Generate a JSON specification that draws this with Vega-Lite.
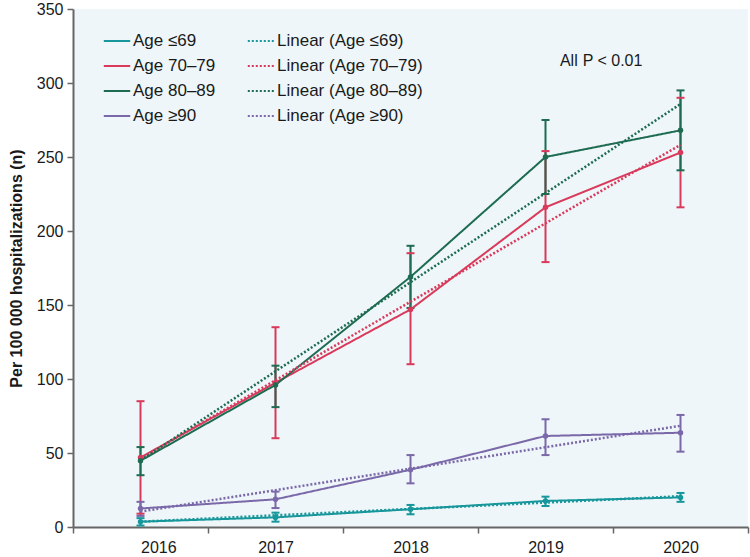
{
  "$schema": "https://vega.github.io/schema/vega-lite/v6.json",
  "width": 675,
  "height": 518,
  "autosize": {"type": "none"},
  "padding": {"left": 73, "top": 9, "right": 2, "bottom": 30},
  "background": "white",
  "config": {
    "view": {"fill": "#eef6f9", "stroke": null},
    "font": "Liberation Sans",
    "axis": {"labelFont": "Liberation Sans", "titleFont": "Liberation Sans", "labelColor": "#1a1a1a", "titleColor": "#1a1a1a", "domainColor": "#666666", "tickColor": "#666666", "domainWidth": 2, "tickWidth": 1.5, "grid": false},
    "legend": {"labelFont": "Liberation Sans", "labelColor": "#1a1a1a"}
  },
  "datasets": {
    "obs": [
      {"series": "Age ≤69", "year": 2016, "v": 3.6, "lo": 1, "hi": 6},
      {"series": "Age ≤69", "year": 2017, "v": 6.5, "lo": 3.6, "hi": 9.7},
      {"series": "Age ≤69", "year": 2018, "v": 12, "lo": 8.6, "hi": 14.9},
      {"series": "Age ≤69", "year": 2019, "v": 17.6, "lo": 14.2, "hi": 20.5},
      {"series": "Age ≤69", "year": 2020, "v": 20, "lo": 17, "hi": 23},
      {"series": "Age 70–79", "year": 2016, "v": 47, "lo": 9, "hi": 85},
      {"series": "Age 70–79", "year": 2017, "v": 97.5, "lo": 60, "hi": 135},
      {"series": "Age 70–79", "year": 2018, "v": 147, "lo": 110, "hi": 185},
      {"series": "Age 70–79", "year": 2019, "v": 216, "lo": 179, "hi": 254},
      {"series": "Age 70–79", "year": 2020, "v": 253, "lo": 216, "hi": 290},
      {"series": "Age 80–89", "year": 2016, "v": 44.8, "lo": 35, "hi": 54},
      {"series": "Age 80–89", "year": 2017, "v": 96, "lo": 81, "hi": 109},
      {"series": "Age 80–89", "year": 2018, "v": 169, "lo": 148, "hi": 190},
      {"series": "Age 80–89", "year": 2019, "v": 250, "lo": 225, "hi": 275},
      {"series": "Age 80–89", "year": 2020, "v": 268, "lo": 241, "hi": 295},
      {"series": "Age ≥90", "year": 2016, "v": 12.5, "lo": 7.5, "hi": 17},
      {"series": "Age ≥90", "year": 2017, "v": 18.7, "lo": 12.8, "hi": 23.9},
      {"series": "Age ≥90", "year": 2018, "v": 38.7, "lo": 29.5, "hi": 48.6},
      {"series": "Age ≥90", "year": 2019, "v": 61.5, "lo": 48.6, "hi": 72.8},
      {"series": "Age ≥90", "year": 2020, "v": 63.7, "lo": 50.9, "hi": 75.7}
    ],
    "trend": [
      {"series": "Linear (Age ≤69)", "year": 2016, "v": 3.6},
      {"series": "Linear (Age ≤69)", "year": 2017, "v": 7.9},
      {"series": "Linear (Age ≤69)", "year": 2018, "v": 12.2},
      {"series": "Linear (Age ≤69)", "year": 2019, "v": 16.5},
      {"series": "Linear (Age ≤69)", "year": 2020, "v": 20.8},
      {"series": "Linear (Age 70–79)", "year": 2016, "v": 46.2},
      {"series": "Linear (Age 70–79)", "year": 2017, "v": 99.2},
      {"series": "Linear (Age 70–79)", "year": 2018, "v": 152.2},
      {"series": "Linear (Age 70–79)", "year": 2019, "v": 205.2},
      {"series": "Linear (Age 70–79)", "year": 2020, "v": 258.2},
      {"series": "Linear (Age 80–89)", "year": 2016, "v": 45},
      {"series": "Linear (Age 80–89)", "year": 2017, "v": 105.2},
      {"series": "Linear (Age 80–89)", "year": 2018, "v": 165.4},
      {"series": "Linear (Age 80–89)", "year": 2019, "v": 225.6},
      {"series": "Linear (Age 80–89)", "year": 2020, "v": 285.8},
      {"series": "Linear (Age ≥90)", "year": 2016, "v": 10.4},
      {"series": "Linear (Age ≥90)", "year": 2017, "v": 24.9},
      {"series": "Linear (Age ≥90)", "year": 2018, "v": 39.4},
      {"series": "Linear (Age ≥90)", "year": 2019, "v": 53.9},
      {"series": "Linear (Age ≥90)", "year": 2020, "v": 68.4}
    ],
    "notes": [
      {"x": 2019.107, "y": 315, "t": "All", "style": "normal"},
      {"x": 2019.275, "y": 315, "t": "P", "style": "italic"},
      {"x": 2019.385, "y": 315, "t": "< 0.01", "style": "normal"}
    ]
  },
  "encoding": {
    "x": {
      "field": "year", "type": "quantitative",
      "scale": {"domain": [2015.5, 2020.5], "nice": false, "zero": false},
      "axis": {
        "title": null,
        "values": [2015.5, 2016.5, 2017.5, 2018.5, 2019.5, 2020.5],
        "labelExpr": "datum.value < 2020 ? format(datum.value + 0.5, 'd') : ''",
        "labelOffset": 67.5,
        "labelFontSize": 16,
        "labelPadding": 6,
        "tickSize": 6
      }
    }
  },
  "layer": [
    {
      "data": {"name": "obs"},
      "mark": {"type": "rule", "strokeWidth": 2},
      "encoding": {
        "y": {"field": "lo", "type": "quantitative"},
        "y2": {"field": "hi"},
        "color": {"field": "series", "type": "nominal"}
      }
    },
    {
      "data": {"name": "obs"},
      "mark": {"type": "tick", "orient": "horizontal", "size": 8, "thickness": 2, "opacity": 1},
      "encoding": {
        "y": {"field": "lo", "type": "quantitative"},
        "color": {"field": "series", "type": "nominal"}
      }
    },
    {
      "data": {"name": "obs"},
      "mark": {"type": "tick", "orient": "horizontal", "size": 8, "thickness": 2, "opacity": 1},
      "encoding": {
        "y": {"field": "hi", "type": "quantitative"},
        "color": {"field": "series", "type": "nominal"}
      }
    },
    {
      "data": {"name": "obs"},
      "mark": {"type": "line", "strokeWidth": 2},
      "encoding": {
        "y": {"field": "v", "type": "quantitative"},
        "color": {"field": "series", "type": "nominal"},
        "strokeDash": {"field": "series", "type": "nominal"}
      }
    },
    {
      "data": {"name": "trend"},
      "mark": {"type": "line", "strokeWidth": 2.5},
      "encoding": {
        "y": {"field": "v", "type": "quantitative"},
        "color": {
          "field": "series", "type": "nominal",
          "legend": {
            "title": null,
            "orient": "none",
            "legendX": 32,
            "legendY": 20,
            "direction": "vertical",
            "columns": 2,
            "columnPadding": 27,
            "rowPadding": 5,
            "padding": 0,
            "symbolType": "M-1.2,0H1.2",
            "symbolSize": 484,
            "symbolStrokeWidth": 2,
            "labelFontSize": 17,
            "labelOffset": 4,
            "labelLimit": 300
          }
        },
        "strokeDash": {
          "field": "series", "type": "nominal",
          "scale": {
            "domain": ["Age ≤69", "Age 70–79", "Age 80–89", "Age ≥90", "Linear (Age ≤69)", "Linear (Age 70–79)", "Linear (Age 80–89)", "Linear (Age ≥90)"],
            "range": [[1, 0], [1, 0], [1, 0], [1, 0], [2, 2], [2, 2], [2, 2], [2, 2]]
          },
          "legend": {
            "title": null,
            "orient": "none",
            "legendX": 32,
            "legendY": 20,
            "direction": "vertical",
            "columns": 2,
            "columnPadding": 27,
            "rowPadding": 5,
            "padding": 0,
            "symbolType": "M-1.2,0H1.2",
            "symbolSize": 484,
            "symbolStrokeWidth": 2,
            "labelFontSize": 17,
            "labelOffset": 4,
            "labelLimit": 300
          }
        }
      }
    },
    {
      "data": {"name": "obs"},
      "mark": {"type": "point", "filled": true, "size": 30, "opacity": 1},
      "encoding": {
        "y": {
          "field": "v", "type": "quantitative",
          "scale": {"domain": [0, 350], "nice": false},
          "axis": {
            "title": "Per 100 000 hospitalizations (n)",
            "titleFontSize": 16,
            "titleFontWeight": "bold",
            "titlePadding": 12,
            "values": [0, 50, 100, 150, 200, 250, 300, 350],
            "labelFontSize": 16,
            "labelPadding": 4,
            "tickSize": 6
          }
        },
        "color": {
          "field": "series", "type": "nominal",
          "scale": {
            "domain": ["Age ≤69", "Age 70–79", "Age 80–89", "Age ≥90", "Linear (Age ≤69)", "Linear (Age 70–79)", "Linear (Age 80–89)", "Linear (Age ≥90)"],
            "range": ["#17979b", "#d93a5b", "#1d6b50", "#7a68a9", "#17979b", "#d93a5b", "#1d6b50", "#7a68a9"]
          }
        }
      }
    },
    {
      "data": {"name": "notes"},
      "mark": {"type": "text", "align": "left", "baseline": "middle", "fontSize": 16, "color": "#1a1a1a"},
      "encoding": {
        "x": {"field": "x", "type": "quantitative"},
        "y": {"field": "y", "type": "quantitative"},
        "text": {"field": "t"},
        "fontStyle": {"field": "style", "type": "nominal", "scale": {"domain": ["normal", "italic"], "range": ["normal", "italic"]}, "legend": null}
      }
    }
  ],
  "resolve": {"scale": {"color": "shared", "strokeDash": "shared"}}
}
